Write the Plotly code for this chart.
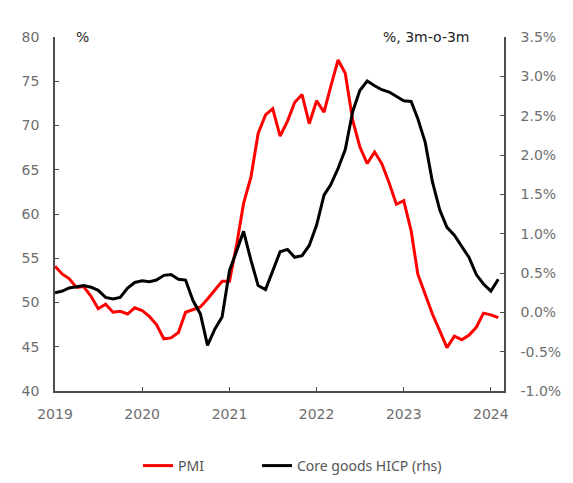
import pandas as pd
import plotly.graph_objects as go

# Monthly observations, Jan 2019 - Feb 2024
months = pd.date_range("2019-01-01", "2024-02-01", freq="MS")

pmi = [
    54.1, 53.2, 52.7, 51.7, 51.8, 50.7, 49.3, 49.8, 48.9, 49.0, 48.7, 49.4,  # 2019
    49.1, 48.4, 47.5, 45.9, 46.0, 46.6, 48.9, 49.2, 49.5, 50.4, 51.4, 52.4,  # 2020
    52.4, 56.7, 61.2, 64.2, 69.1, 71.2, 71.9, 68.8, 70.5, 72.6, 73.5, 70.2,  # 2021
    72.8, 71.5, 74.4, 77.4, 75.9, 70.6, 67.6, 65.7, 67.0, 65.7, 63.5, 61.1,  # 2022
    61.5, 58.1, 53.2, 51.0, 48.7, 46.8, 44.9, 46.2, 45.8, 46.3, 47.2, 48.8,  # 2023
    48.6, 48.3,                                                              # 2024
]

core_goods = [
    0.25, 0.27, 0.31, 0.33, 0.34, 0.32, 0.28, 0.19, 0.17, 0.19, 0.31, 0.38,  # 2019
    0.40, 0.39, 0.41, 0.47, 0.48, 0.42, 0.41, 0.15, -0.02, -0.42, -0.21, -0.06,  # 2020
    0.53, 0.79, 1.03, 0.66, 0.34, 0.29, 0.53, 0.77, 0.80, 0.70, 0.72, 0.85,  # 2021
    1.11, 1.49, 1.62, 1.83, 2.07, 2.55, 2.82, 2.94, 2.88, 2.83, 2.80, 2.75,  # 2022
    2.69, 2.68, 2.46, 2.16, 1.66, 1.30, 1.08, 0.98, 0.84, 0.70, 0.48, 0.36,  # 2023
    0.27, 0.42,                                                              # 2024
]

left_ticks = [40, 45, 50, 55, 60, 65, 70, 75, 80]
right_ticks = [-1.0, -0.5, 0.0, 0.5, 1.0, 1.5, 2.0, 2.5, 3.0, 3.5]
right_labels = [f"{v:.1f}%" for v in right_ticks]

W, H = 573, 483
axis_col = "#4d4d4d"
tick_font = dict(family="DejaVu Sans, sans-serif", size=14, color="#6e6e6e")
note_font = dict(family="DejaVu Sans, sans-serif", size=14, color="#222222")
legend_font = dict(family="Noto Sans, DejaVu Sans, sans-serif", size=14, color="#555555")

fig = go.Figure()
fig.add_trace(go.Scatter(
    x=months, y=pmi, name="PMI", mode="lines",
    line=dict(color="#ff0000", width=3), yaxis="y", legend="legend",
))
fig.add_trace(go.Scatter(
    x=months, y=core_goods, name="Core goods HICP (rhs)", mode="lines",
    line=dict(color="#000000", width=3), yaxis="y2", legend="legend2",
))


def legend_box(left_px):
    return dict(
        orientation="h", x=left_px / W, xanchor="left", xref="container",
        y=(H - 466) / H, yref="container", yanchor="middle",
        font=legend_font, bgcolor="rgba(0,0,0,0)",
    )


fig.update_layout(
    width=W, height=H,
    margin=dict(l=55, r=63, t=37, b=92),
    paper_bgcolor="white", plot_bgcolor="white",
    showlegend=True,
    legend=legend_box(138),
    legend2=legend_box(257),
    xaxis=dict(
        type="date",
        range=["2019-01-01", "2024-02-25"],
        tick0="2019-01-01", dtick="M12", tickformat="%Y",
        ticks="inside", ticklen=4, tickcolor=axis_col, tickwidth=1,
        showline=True, linecolor=axis_col, linewidth=1.5,
        showgrid=False, zeroline=False,
        tickfont=tick_font, ticklabelstandoff=9,
    ),
    yaxis=dict(
        range=[40, 80], tickvals=left_ticks,
        ticks="inside", ticklen=4, tickcolor=axis_col, tickwidth=1,
        showline=True, linecolor=axis_col, linewidth=1.5,
        showgrid=False, zeroline=False,
        tickfont=tick_font, ticklabelstandoff=11,
    ),
    yaxis2=dict(
        range=[-1.0, 3.5], overlaying="y", side="right",
        tickvals=right_ticks, ticktext=right_labels,
        ticks="inside", ticklen=4, tickcolor=axis_col, tickwidth=1,
        showline=True, linecolor=axis_col, linewidth=1.5,
        showgrid=False, zeroline=False,
        tickfont=tick_font, ticklabelstandoff=12,
    ),
    annotations=[
        dict(text="%", x=0.062, y=1.0, xref="paper", yref="paper",
             xanchor="center", yanchor="middle", showarrow=False, font=note_font),
        dict(text="%, 3m-o-3m", x=0.927, y=1.0, xref="paper", yref="paper",
             xanchor="right", yanchor="middle", showarrow=False, font=note_font),
    ],
)

fig.write_html("out.html")
